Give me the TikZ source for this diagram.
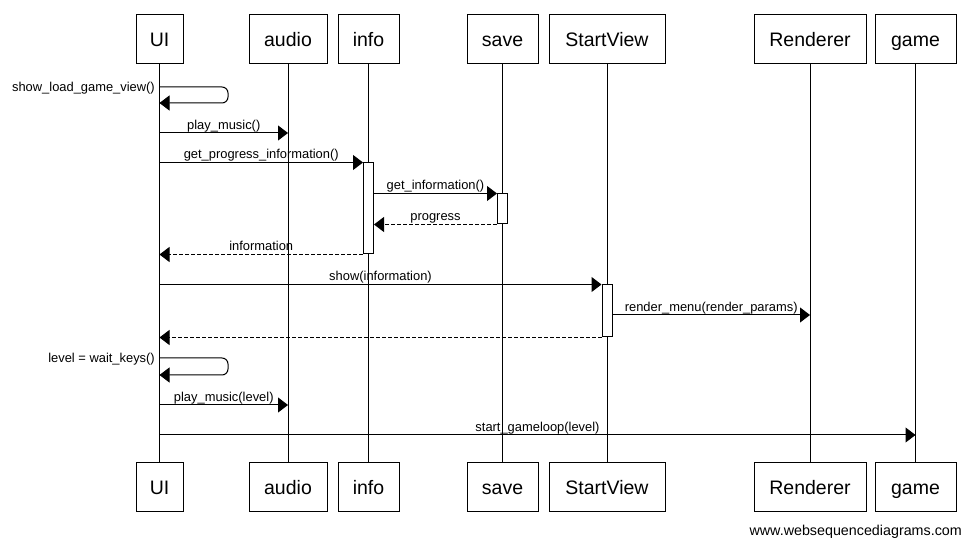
\documentclass[tikz,border=0pt]{standalone}
\usepackage{fontspec}
\setmainfont{Liberation Sans}
\usetikzlibrary{arrows.meta,calc}
\begin{document}
\begin{tikzpicture}[x=1pt,y=-1pt,
  actor/.style={draw,line width=1pt,minimum height=49pt,inner sep=0pt,font=\fontsize{19.5}{20}\selectfont,text height=14pt,text depth=0pt},
  life/.style={line width=1pt},
  act/.style={draw,fill=white,line width=1pt,minimum width=10pt,inner sep=0pt},
  msg/.style={line width=1pt,-{Triangle[length=10pt,width=15pt]}},
  ret/.style={msg,dash pattern=on 4pt off 2pt},
  lbl/.style={font=\fontsize{12.9}{14}\selectfont,inner sep=0pt,anchor=base,yshift=3.5pt},
  slbl/.style={font=\fontsize{12.9}{14}\selectfont,inner sep=0pt,anchor=base east},
]
\fill[white] (0,0) rectangle (970,545);
\useasboundingbox (0,0) rectangle (970,545);

% top actors
\node[actor,minimum width=47pt]  (uiT)   at (159.5,39.5) {UI};
\node[actor,minimum width=78pt]  (audT)  at (288,39.5) {audio};
\node[actor,minimum width=61pt]  (infT)  at (368.5,39.5) {info};
\node[actor,minimum width=71pt]  (savT)  at (502.5,39.5) {save};
\node[actor,minimum width=116pt] (svT)   at (607,39.5) {StartView};
\node[actor,minimum width=112pt] (renT)  at (810,39.5) {Renderer};
\node[actor,minimum width=81pt]  (gamT)  at (915.5,39.5) {game};
% bottom actors
\node[actor,minimum width=47pt]  (uiB)   at (159.5,487) {UI};
\node[actor,minimum width=78pt]  (audB)  at (288,487) {audio};
\node[actor,minimum width=61pt]  (infB)  at (368.5,487) {info};
\node[actor,minimum width=71pt]  (savB)  at (502.5,487) {save};
\node[actor,minimum width=116pt] (svB)   at (607,487) {StartView};
\node[actor,minimum width=112pt] (renB)  at (810,487) {Renderer};
\node[actor,minimum width=81pt]  (gamB)  at (915.5,487) {game};

% lifelines
\draw[life] (uiT) -- (uiB);
\draw[life] (audT) -- (audB);
\draw[life] (infT) -- (infB);
\draw[life] (savT) -- (savB);
\draw[life] (svT) -- (svB);
\draw[life] (renT) -- (renB);
\draw[life] (gamT) -- (gamB);

% activations
\node[act,minimum height=91pt] (infA) at (infT.south |- 0,208.5) {};
\node[act,minimum height=30pt] (savA) at (savT.south |- 0,209) {};
\node[act,minimum height=52pt] (svA)  at (svT.south |- 0,311) {};

% messages
\draw[msg,rounded corners=6pt] (uiT.south |- 0,87) -- (228,87) -- (228,103) -- (uiT.south |- 0,103);
\node[slbl] (t1) at (155,92) {show\_load\_game\_view()};

\draw[msg] (uiT.south |- 0,133) -- node[lbl] (t2) {play\_music()} (audT.south |- 0,133);

\draw[msg] (uiT.south |- infA.north) -- node[lbl] (t3) {get\_progress\_information()} (infA.north west);

\draw[msg] (infA.east |- savA.north) -- node[lbl] (t4) {get\_information()} (savA.north west);

\draw[ret] (savA.south west) -- node[lbl] (t5) {progress} (infA.east |- savA.south);

\draw[ret] (infA.south west) -- node[lbl] (t6) {information} (uiT.south |- infA.south);

\draw[msg] (uiT.south |- svA.north) -- node[lbl] (t7) {show(information)} (svA.north west);

\draw[msg] (svA.east |- 0,315) -- node[lbl] (t8) {render\_menu(render\_params)} (renT.south |- 0,315);

\draw[ret] (svA.south west) -- (uiT.south |- svA.south);

\draw[msg,rounded corners=6pt] (uiT.south |- 0,358) -- (228,358) -- (228,375) -- (uiT.south |- 0,375);
\node[slbl] (t10) at (155,363) {level = wait\_keys()};

\draw[msg] (uiT.south |- 0,405) -- node[lbl] (t11) {play\_music(level)} (audT.south |- 0,405);

\draw[msg] (uiT.south |- 0,435) -- node[lbl] (t12) {start\_gameloop(level)} (gamT.south |- 0,435);

\node[font=\fontsize{14.3}{16}\selectfont,anchor=base east,inner sep=0pt] (foot) at (962,535) {www.websequencediagrams.com};
\end{tikzpicture}
\end{document}
